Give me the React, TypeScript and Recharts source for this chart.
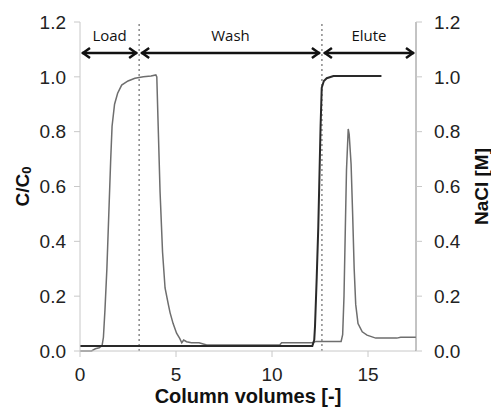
import React from 'react';
import { LineChart, Line, XAxis, YAxis, ReferenceLine, Label } from 'recharts';

// product breakthrough / elution (C/C0)
const productCv = [0, 0.6, 0.8, 1.0, 1.15, 1.22, 1.3, 1.4, 1.5, 1.6, 1.67, 1.8, 1.96, 2.17, 2.5, 2.86, 3.3, 3.7, 3.95, 4.0, 4.06, 4.17, 4.3, 4.43, 4.6, 4.69, 4.85, 5.03, 5.2, 5.3, 5.4, 5.55, 5.8, 6.2, 6.6, 8.0, 10.4, 10.5, 12.1, 12.3, 13.6, 13.68, 13.75, 13.82, 13.88, 13.97, 14.02, 14.12, 14.2, 14.28, 14.36, 14.48, 14.7, 14.95, 15.4, 16.5, 16.7, 17.5];
const productConc = [0.0, 0.0, 0.008, 0.012, 0.02, 0.05, 0.15, 0.3, 0.5, 0.7, 0.82, 0.9, 0.94, 0.97, 0.985, 0.995, 1.0, 1.003, 1.007, 1.0, 0.85, 0.58, 0.36, 0.23, 0.17, 0.14, 0.1, 0.065, 0.045, 0.03, 0.04, 0.034, 0.03, 0.03, 0.022, 0.022, 0.022, 0.03, 0.03, 0.035, 0.035, 0.06, 0.2, 0.45, 0.66, 0.81, 0.79, 0.68, 0.5, 0.3, 0.17, 0.1, 0.07, 0.058, 0.047, 0.047, 0.05, 0.05];

// salt gradient step (NaCl [M])
const saltCv = [0, 12.1, 12.2, 12.24, 12.33, 12.41, 12.53, 12.59, 12.7, 12.85, 13.2, 15.7];
const saltConc = [0.018, 0.018, 0.04, 0.09, 0.27, 0.45, 0.82, 0.96, 0.985, 0.995, 1.003, 1.003];

// phases
const phaseNames = ['Load', 'Wash', 'Elute'];
const phaseStart = [0, 3.08, 12.6];
const phaseEnd = [3.08, 12.6, 17.5];
const arrowLevel = 1.087;

const xTicks = [0, 5, 10, 15];
const yTicks = [0, 0.2, 0.4, 0.6, 0.8, 1.0, 1.2];

const productData = productCv.map((x, i) => ({ x, y: productConc[i] }));
const saltData = saltCv.map((x, i) => ({ x, y: saltConc[i] }));

const FONT = 'Liberation Sans, Arial, sans-serif';
const tickFont = { fill: '#222', fontSize: 19, fontFamily: FONT };

const makeArrow = (name: string) => (p: any) => {
  const a = p.x1 + 2;
  const b = p.x2 - 2;
  const y = p.y1;
  const h = 8;
  const w = 5;
  return (
    <g>
      <line x1={a} y1={y} x2={b} y2={y} stroke="#111" strokeWidth={2.5} />
      <polyline points={`${a + h},${y - w} ${a + 1},${y} ${a + h},${y + w}`} fill="none" stroke="#111" strokeWidth={2.5} />
      <polyline points={`${b - h},${y - w} ${b - 1},${y} ${b - h},${y + w}`} fill="none" stroke="#111" strokeWidth={2.5} />
      <text x={(a + b) / 2} y={y - 12} textAnchor="middle" fontSize={15} fontFamily="Open Sans, sans-serif" fill="#111">
        {name}
      </text>
    </g>
  );
};

// rotated axis title, optional subscript
const sideTitle = (text: string, sub: string, dx: number) => (props: any) => {
  const { x, y, width, height } = props.viewBox;
  const cx = x + width / 2 + dx;
  const cy = y + height / 2;
  return (
    <text
      transform={`rotate(-90 ${cx} ${cy})`}
      x={cx}
      y={cy}
      textAnchor="middle"
      dominantBaseline="central"
      fontSize={19}
      fontWeight="bold"
      fontFamily={FONT}
      fill="#111"
    >
      {text}
      {sub && (
        <tspan fontSize={13} dy={4}>
          {sub}
        </tspan>
      )}
    </text>
  );
};

export default function App() {
  return (
    <div style={{ position: 'absolute', left: 0, top: 0, background: '#fff' }}>
      <LineChart width={491} height={409} margin={{ top: 22, right: 0, bottom: 0, left: 0 }}>
        <XAxis
          type="number"
          dataKey="x"
          domain={[0, 17.5]}
          ticks={xTicks}
          height={58}
          tick={tickFont}
          tickMargin={11}
          axisLine={{ stroke: '#c8c8c8' }}
          tickLine={{ stroke: '#c8c8c8' }}
        >
          <Label
            value="Column volumes [-]"
            position="center"
            dy={16}
            style={{ fill: '#111', fontSize: 20, fontWeight: 'bold', fontFamily: FONT }}
          />
        </XAxis>
        <YAxis
          yAxisId="left"
          type="number"
          domain={[0, 1.2]}
          ticks={yTicks}
          width={80}
          tick={tickFont}
          tickMargin={8}
          tickFormatter={(v: number) => v.toFixed(1)}
          axisLine={{ stroke: '#c8c8c8' }}
          tickLine={{ stroke: '#c8c8c8' }}
        >
          <Label content={sideTitle('C/C', '0', -18)} />
        </YAxis>
        <YAxis
          yAxisId="right"
          orientation="right"
          type="number"
          domain={[0, 1.2]}
          ticks={yTicks}
          width={75}
          tick={tickFont}
          tickMargin={12}
          tickFormatter={(v: number) => v.toFixed(1)}
          axisLine={{ stroke: '#888' }}
          tickLine={{ stroke: '#c8c8c8' }}
        >
          <Label content={sideTitle('NaCl [M]', '', 28)} />
        </YAxis>
        {phaseStart.slice(1).map((x) => (
          <ReferenceLine key={x} x={x} yAxisId="left" stroke="#777" strokeWidth={1.3} strokeDasharray="2 3" />
        ))}
        {phaseNames.map((name, i) => (
          <ReferenceLine
            key={name}
            yAxisId="left"
            segment={[
              { x: phaseStart[i], y: arrowLevel },
              { x: phaseEnd[i], y: arrowLevel },
            ]}
            shape={makeArrow(name)}
          />
        ))}
        <Line
          data={productData}
          dataKey="y"
          yAxisId="left"
          type="linear"
          stroke="#6e6e6e"
          strokeWidth={1.5}
          dot={false}
          isAnimationActive={false}
        />
        <Line
          data={saltData}
          dataKey="y"
          yAxisId="right"
          type="linear"
          stroke="#2a2a2a"
          strokeWidth={2}
          dot={false}
          isAnimationActive={false}
        />
      </LineChart>
    </div>
  );
}
